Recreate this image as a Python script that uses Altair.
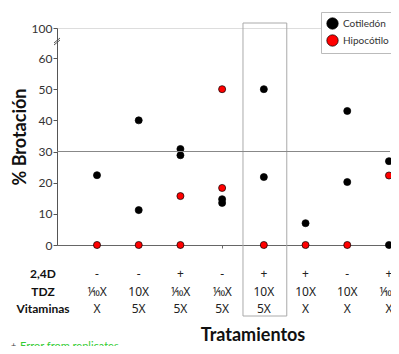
import altair as alt
import pandas as pd

# categories (treatments) by index
cat_index = [1, 2, 3, 4, 5, 6, 7, 8]
row_24d = ["-", "-", "+", "-", "+", "+", "-", "+"]
row_tdz = ["⅒X", "10X", "⅒X", "⅒X", "10X", "10X", "10X", "⅒X"]
row_vit = ["X", "5X", "5X", "5X", "5X", "X", "X", "X"]

cot_x = [1, 2, 2, 3, 3, 4, 4, 5, 5, 6, 7, 7, 8, 8]
cot_y = [22.4, 40, 11.2, 30.8, 28.8, 14.7, 13.5, 50, 21.8, 7.0, 43, 20.2, 26.9, 0]
hip_x = [1, 2, 3, 3, 4, 4, 5, 6, 7, 8]
hip_y = [0, 0, 15.7, 0, 50, 18.3, 0, 0, 0, 22.3]

y_ticks = [0, 10, 20, 30, 40, 50, 60, 100]

W, H = 334, 217
STEP = 41.71
D0 = 1 - 40 / STEP
FONT = "Lato"
TFONT = "Noto Sans"

pts = pd.DataFrame(
    [{"t": x, "v": y, "Tejido": "Cotiledón"} for x, y in zip(cot_x, cot_y)]
    + [{"t": x, "v": y, "Tejido": "Hipocótilo"} for x, y in zip(hip_x, hip_y)]
)

xs = alt.Scale(domain=[D0, D0 + W / STEP], nice=False, zero=False)
ys = alt.Scale(domain=[0, 60, 100], range=[H, 30, 0], nice=False, zero=False)

yaxis = alt.Axis(values=y_ticks, title="% Brotación", titleFont=FONT,
                 titleFontSize=18, titleFontWeight="bold", titleColor="#111",
                 titlePadding=2, labelFont=FONT, labelFontSize=12,
                 labelColor="#333", labelPadding=1, tickSize=4,
                 tickColor="#555", domainColor="#555", grid=False)
xaxis = alt.Axis(values=cat_index, labels=False, title=None, domain=True,
                 domainColor="#666", tickColor="#666", tickSize=3, grid=False)

points = alt.Chart(pts).mark_point(filled=True, size=50, stroke="black",
                                    strokeWidth=0.7, opacity=1).encode(
    x=alt.X("t:Q", scale=xs, axis=xaxis),
    y=alt.Y("v:Q", scale=ys, axis=yaxis),
    color=alt.Color("Tejido:N",
                    scale=alt.Scale(domain=["Cotiledón", "Hipocótilo"], range=["black", "red"]),
                    legend=alt.Legend(title=None, orient="none", legendX=264, legendY=-16,
                                      symbolType="circle", symbolSize=130,
                                      symbolStrokeColor="black", symbolStrokeWidth=0.7,
                                      labelFont=FONT, labelFontSize=10, labelColor="#333",
                                      strokeColor="#bbb", padding=5, rowPadding=2,
                                      fillColor="white")),
    order=alt.Order("Tejido:N"),
)

line30 = alt.Chart(pd.DataFrame({"v": [30]})).mark_rule(color="#888", strokeWidth=1).encode(
    y=alt.Y("v:Q", scale=ys, axis=yaxis), x=alt.value(0), x2=alt.value(333)
)

box = alt.Chart(pd.DataFrame({"a": [4.5], "b": [5.55]})).mark_rect(
    fill=None, stroke="#aaa", strokeWidth=1, clip=False
).encode(x=alt.X("a:Q", scale=xs, axis=xaxis), x2="b:Q", y=alt.value(-5), y2=alt.value(288))

brk1 = alt.Chart(pd.DataFrame({"k": [0]})).mark_rule(color="#555", strokeWidth=1).encode(
    x=alt.value(-3), x2=alt.value(3), y=alt.value(15), y2=alt.value(10))
brk2 = alt.Chart(pd.DataFrame({"k": [0]})).mark_rule(color="#555", strokeWidth=1).encode(
    x=alt.value(-3), x2=alt.value(3), y=alt.value(17), y2=alt.value(12))

tbl = pd.DataFrame({"t": cat_index, "d": row_24d, "z": row_tdz, "m": row_vit})
base_txt = alt.Chart(tbl).mark_text(font=TFONT, fontSize=12, color="#222", align="center",
                                    baseline="middle", clip=False)
t1 = base_txt.encode(x=alt.X("t:Q", scale=xs, axis=xaxis), y=alt.value(246), text="d:N")
t2 = base_txt.encode(x=alt.X("t:Q", scale=xs, axis=xaxis), y=alt.value(264), text="z:N")
t3 = base_txt.encode(x=alt.X("t:Q", scale=xs, axis=xaxis), y=alt.value(281), text="m:N")

row_labels = ["2,4D", "TDZ", "Vitaminas"]
row_y = [246, 264, 281]
rls = [
    alt.Chart(pd.DataFrame({"lab": [lab]})).mark_text(
        font=FONT, fontSize=12, fontWeight="bold", color="#111",
        align="center", baseline="middle").encode(
        x=alt.value(-14), y=alt.value(yy), text="lab:N")
    for lab, yy in zip(row_labels, row_y)
]

xt = alt.Chart(pd.DataFrame({"lab": ["Tratamientos"]})).mark_text(
    font=FONT, fontSize=18, fontWeight="bold", color="#111", align="center", baseline="middle"
).encode(x=alt.value(196), y=alt.value(308), text="lab:N")

note = alt.Chart(pd.DataFrame({"lab": ["Error from replicates"]})).mark_text(
    font=FONT, fontSize=11, color="#3c3", align="left", baseline="top"
).encode(x=alt.value(-37), y=alt.value(313), text="lab:N")
note_b = alt.Chart(pd.DataFrame({"lab": ["+"]})).mark_text(
    font=FONT, fontSize=9, color="#444", align="left", baseline="top"
).encode(x=alt.value(-46), y=alt.value(314), text="lab:N")

chart = alt.layer(points, box, line30, brk1, brk2, t1, t2, t3, *rls, xt, note, note_b).properties(
    width=W, height=H, autosize=alt.AutoSizeParams(type="none"),
    padding={"left": 49, "top": 20, "right": 0, "bottom": 101},
).configure_view(stroke=None).configure(background="white")

chart.save("out.html", embed_options={"renderer": "svg", "actions": False})
